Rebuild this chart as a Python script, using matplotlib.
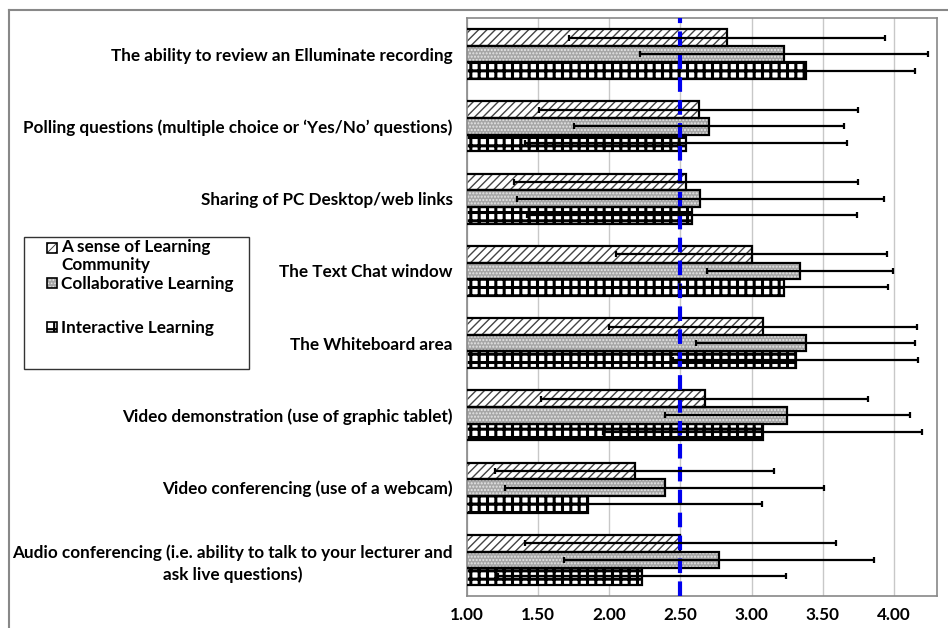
import matplotlib
matplotlib.use("Agg")
import matplotlib.pyplot as plt
from matplotlib.patches import Rectangle
from matplotlib.lines import Line2D
import numpy as np

categories = [
    "The ability to review an Elluminate recording",
    "Polling questions (multiple choice or \u2018Yes/No\u2019 questions)",
    "Sharing of PC Desktop/web links",
    "The Text Chat window",
    "The Whiteboard area",
    "Video demonstration (use of graphic tablet)",
    "Video conferencing (use of a webcam)",
    "Audio conferencing (i.e. ability to talk to your lecturer and\nask live questions)",
]
series_names = ["A sense of Learning\nCommunity", "Collaborative Learning", "Interactive Learning"]

community_mean = [2.83, 2.63, 2.54, 3.00, 3.08, 2.67, 2.18, 2.50]
community_sd = [1.11, 1.12, 1.21, 0.95, 1.08, 1.15, 0.98, 1.09]
collab_mean = [3.23, 2.70, 2.64, 3.34, 3.38, 3.25, 2.39, 2.77]
collab_sd = [1.01, 0.95, 1.29, 0.65, 0.77, 0.86, 1.12, 1.09]
interactive_mean = [3.38, 2.54, 2.58, 3.23, 3.31, 3.08, 1.85, 2.23]
interactive_sd = [0.77, 1.13, 1.16, 0.73, 0.86, 1.12, 1.22, 1.01]

threshold = 2.5
xticks = [1.0, 1.5, 2.0, 2.5, 3.0, 3.5, 4.0]

plt.rcParams['font.family'] = ['Lato', 'DejaVu Sans']

fig = plt.figure(figsize=(9.48, 6.28), dpi=100)
ax = fig.add_axes([466.7/948, 1-596/628, 470/948, 578/628])

y = np.arange(len(categories))
h = 0.23
offsets = [-h, 0, h]
styles = [
    dict(face='white', hatch='////', hcol='#444444', hlw=1.0),
    dict(face='#a6a6a6', hatch='.....', hcol='#e6e6e6', hlw=1.0),
    dict(face='white', hatch='++', hcol='black', hlw=2.2),
]
means = [community_mean, collab_mean, interactive_mean]
sds = [community_sd, collab_sd, interactive_sd]

for i in range(3):
    st = styles[i]
    with plt.rc_context({'hatch.linewidth': st['hlw']}):
        ax.barh(y + offsets[i], means[i], height=h, left=0, color=st['face'],
                hatch=st['hatch'], edgecolor=st['hcol'], linewidth=0, zorder=2)
    ax.barh(y + offsets[i], means[i], height=h, left=0, color='none',
            edgecolor='black', linewidth=1.6, zorder=3)

ax.axvline(threshold, color='#0000ee', lw=3, ls=(0, (3.5, 2)), zorder=4)

for i in range(3):
    ax.errorbar(means[i], y + offsets[i], xerr=sds[i], fmt='none', ecolor='black',
                elinewidth=1.6, capsize=2.5, capthick=1.6, zorder=5)

ax.set_xlim(1.0, 4.3)
ax.set_ylim(len(categories) - 0.5, -0.5)
ax.set_xticks(xticks)
ax.set_xticklabels([f"{t:.2f}" for t in xticks], fontweight='bold', fontsize=12.3)
ax.set_yticks(y)
ax.set_yticklabels(categories, fontweight='bold', fontsize=12.3, multialignment='center',
                   linespacing=1.4)
ax.tick_params(axis='both', length=0)
ax.tick_params(axis='y', pad=10)
ax.tick_params(axis='x', pad=8)
ax.grid(axis='x', color='#c8c8c8', lw=1, zorder=0)
ax.set_axisbelow(True)
for s in ax.spines.values():
    s.set_color('#888888')
    s.set_linewidth(1.2)

# outer frame lines
fig.add_artist(Line2D([9/948, 1.0], [1-10/628, 1-10/628], transform=fig.transFigure, color='#888888', lw=1.5))
fig.add_artist(Line2D([9/948, 9/948], [0, 1-10/628], transform=fig.transFigure, color='#888888', lw=1.5))

# legend box
fig.add_artist(Rectangle((24/948, 1-369/628), 225/948, 132/628, transform=fig.transFigure,
                         facecolor='white', edgecolor='#333333', lw=1))
leg_y = [248, 283, 327]
txt_y = [256, 284, 328]
for i in range(3):
    st = styles[i]
    yy = 1 - (leg_y[i] + 5) / 628
    with plt.rc_context({'hatch.linewidth': st['hlw'] * 0.7}):
        fig.add_artist(Rectangle((47/948, yy), 10/948, 10/628, transform=fig.transFigure,
                                 facecolor=st['face'], hatch=st['hatch'], edgecolor=st['hcol'], lw=0))
    fig.add_artist(Rectangle((47/948, yy), 10/948, 10/628, transform=fig.transFigure,
                             facecolor='none', edgecolor='black', lw=1.2))
    fig.text(61/948, 1 - txt_y[i]/628, series_names[i], fontsize=12.3, fontweight='bold',
             va='center', ha='left', linespacing=1.1)

fig.savefig("out.png", dpi=100)
